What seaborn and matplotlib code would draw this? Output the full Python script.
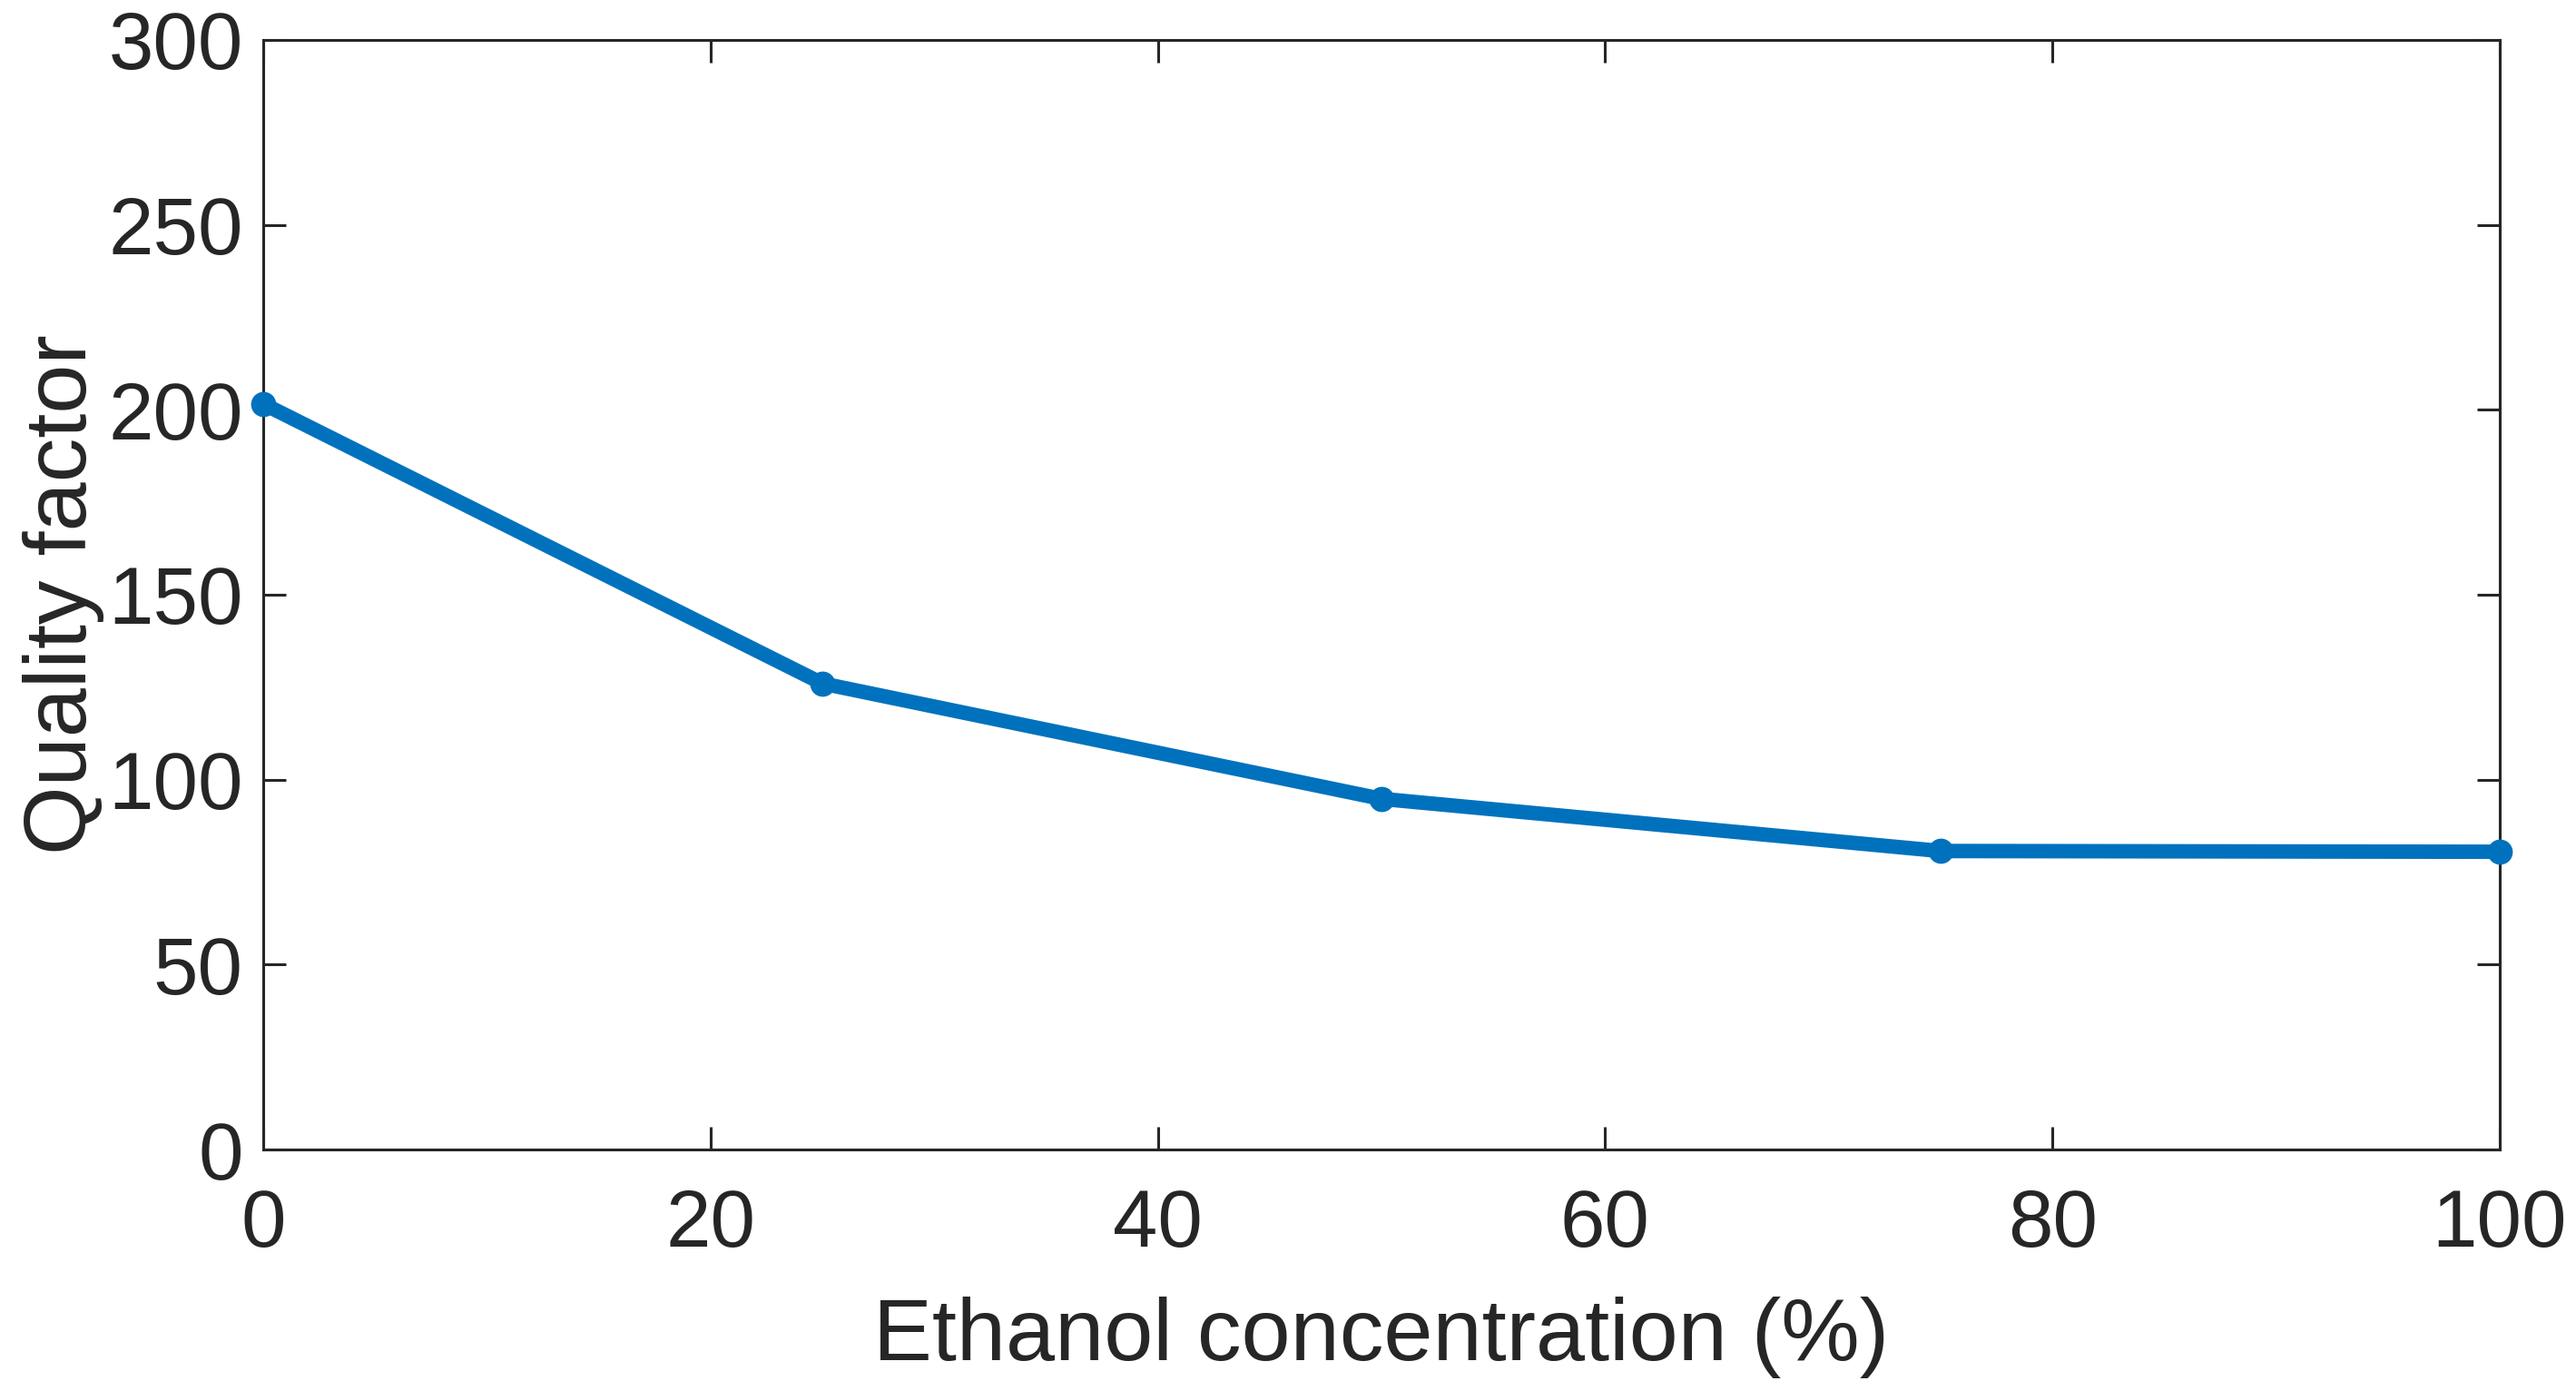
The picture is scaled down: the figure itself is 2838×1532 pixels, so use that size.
import numpy as np
import pandas as pd
import matplotlib
matplotlib.use("Agg")
import matplotlib.pyplot as plt
import seaborn as sns

# data
ethanol = [0, 25, 50, 75, 100]
quality = [201.6, 126.0, 94.8, 80.7, 80.5]

x_ticks = [0, 20, 40, 60, 80, 100]
y_ticks = [0, 50, 100, 150, 200, 250, 300]

sns.set_style("white")
plt.rcParams['font.family'] = ['Liberation Sans', 'DejaVu Sans']

text_col = '#262626'
line_col = '#0072BD'

df = pd.DataFrame({'ethanol': ethanol, 'quality': quality})

fig = plt.figure(figsize=(28.38, 15.32), dpi=100)
ax = fig.add_axes([290 / 2838, 1 - 1266 / 1532, (2754 - 290) / 2838, (1266 - 44) / 1532])

sns.lineplot(data=df, x='ethanol', y='quality', ax=ax, color=line_col,
             linewidth=11.5, marker='o', markersize=20, markeredgewidth=0,
             solid_joinstyle='round', clip_on=False, zorder=5)

ax.set_xlim(0, 100)
ax.set_ylim(0, 300)
ax.set_xticks(x_ticks)
ax.set_yticks(y_ticks)

for side in ax.spines.values():
    side.set_color(text_col)
    side.set_linewidth(2.2)

ax.tick_params(axis='both', direction='in', length=18, width=2.2,
               colors=text_col, labelsize=64,
               bottom=True, left=True, top=True, right=True)
ax.tick_params(axis='x', pad=30)
ax.tick_params(axis='y', pad=16)

ax.set_xlabel('Ethanol concentration (%)', fontsize=70, color=text_col, labelpad=26)
ax.set_ylabel('Quality factor', fontsize=70, color=text_col, labelpad=3)

fig.savefig('out.png', dpi=100, facecolor='white')
